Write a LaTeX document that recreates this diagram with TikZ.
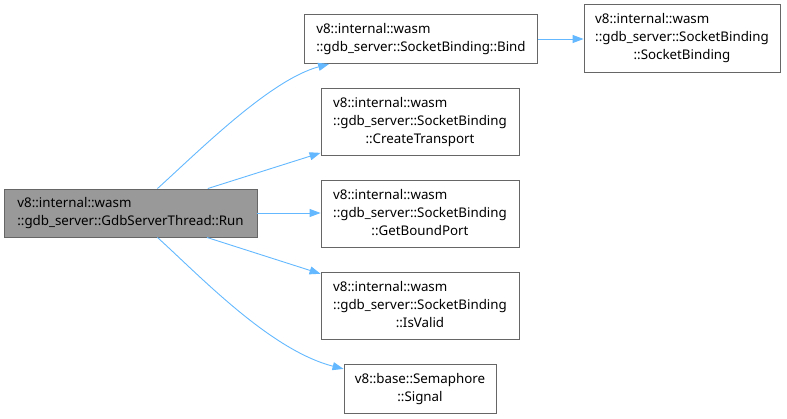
\documentclass[tikz,border=0pt]{standalone}
\usepackage{fontspec}
\setmainfont{Noto Sans}
\usetikzlibrary{arrows.meta}
\definecolor{edgeblue}{HTML}{63B8FF}
\definecolor{boxline}{HTML}{666666}
\definecolor{runfill}{HTML}{999999}
\newcommand{\lbl}[2]{\begin{tabular}{@{}l@{}}#1\\\multicolumn{1}{@{}c@{}}{#2}\end{tabular}}
\begin{document}
\begin{tikzpicture}[x=1pt,y=-1pt,
  fn/.style={draw=boxline,line width=0.9pt,fill=white,inner sep=0pt,rectangle,
    font=\fontsize{13.33}{18}\selectfont},
  edge/.style={draw=edgeblue,line width=0.9pt,-{Triangle[length=11pt,width=8pt]}}]
\useasboundingbox (0,0) rectangle (787,418);
\node[fn,fill=runfill,minimum width=253pt,minimum height=48pt] (run) at (130.5,213)
  {\lbl{v8::internal::wasm}{::gdb\_server::GdbServerThread::Run}};
\node[fn,minimum width=233pt,minimum height=49pt] (bind) at (421,39)
  {\lbl{v8::internal::wasm}{::gdb\_server::SocketBinding::Bind}};
\node[fn,minimum width=196pt,minimum height=68pt] (sb) at (682,38)
  {\lbl{v8::internal::wasm\\::gdb\_server::SocketBinding}{::SocketBinding}};
\node[fn,minimum width=198pt,minimum height=67pt] (ct) at (420,121.5)
  {\lbl{v8::internal::wasm\\::gdb\_server::SocketBinding}{::CreateTransport}};
\node[fn,minimum width=198pt,minimum height=67pt] (gbp) at (420,213.5)
  {\lbl{v8::internal::wasm\\::gdb\_server::SocketBinding}{::GetBoundPort}};
\node[fn,minimum width=198pt,minimum height=67pt] (iv) at (420,305.5)
  {\lbl{v8::internal::wasm\\::gdb\_server::SocketBinding}{::IsValid}};
\node[fn,minimum width=152pt,minimum height=49pt] (sig) at (420,388.5)
  {\lbl{v8::base::Semaphore}{::Signal}};
\draw[edge] (run) .. controls (200,150) and (270,80) .. (bind);
\draw[edge] (bind) -- (sb.west |- bind.east);
\draw[edge] (run) -- (ct);
\draw[edge] (run.east) -- (gbp.west |- run.east);
\draw[edge] (run) -- (iv);
\draw[edge] (run) .. controls (200,276) and (270,350) .. (sig);
\end{tikzpicture}
\end{document}
